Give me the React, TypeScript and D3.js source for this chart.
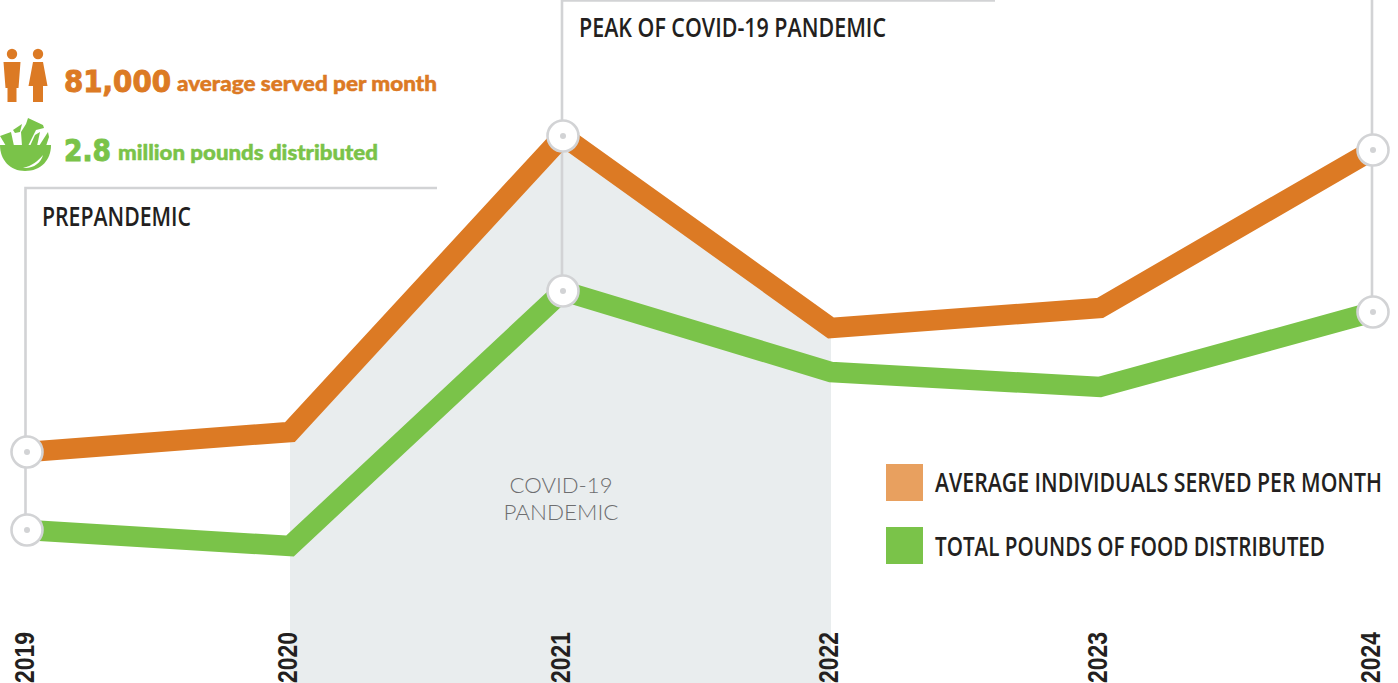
import React from 'react';
import * as d3 from 'd3';

const years = [2019, 2020, 2021, 2022, 2023, 2024];
// heights (the source chart has no value axis)
const individuals = [231, 251, 547, 355, 375, 533];
const pounds = [153, 137, 392, 311, 296, 371];
const pandemicYears = [2020, 2021, 2022];
const legendLabels = ['AVERAGE INDIVIDUALS SERVED PER MONTH', 'TOTAL POUNDS OF FOOD DISTRIBUTED'];

const width = 1398;
const height = 683;
const ORANGE = '#dc7a24';
const GREEN = '#7ac349';
const GREY = '#d2d3d5';
const INK = '#231f20';
const SQUEEZE = 0.78;

const x = d3.scaleLinear().domain(years).range([27, 290, 563, 831, 1100, 1373]);
const y = d3.scaleLinear().domain([0, height]).range([height, 0]);

const line = d3.line<number>().x((_, i) => x(years[i])).y((d) => y(d));
const band = d3.area<number>().x((d) => x(d)).y0(height).y1((d) => y(individuals[years.indexOf(d)]));

const Person = ({ dx, skirt }: { dx: number; skirt: boolean }) => (
  <g transform={`translate(${dx},0)`} fill={ORANGE}>
    <circle cx={0} cy={54} r={5.2} />
    <path
      d={
        skirt
          ? 'M-5,62 H5 L9.5,86 H5 V102 H-5 V86 H-9.5 Z'
          : 'M-8.5,62 H8.5 L6.5,88 H4.5 V102 H-4.5 V88 H-6.5 Z'
      }
    />
  </g>
);

const Bowl = () => (
  <g fill={GREEN}>
    <path d="M0,136 L11,132 L14,146 H6 Z" />
    <path d="M13,130 L22,124 L20,132 L15,133 Z" />
    <path d="M22,146 L21,132 L26,124 L28,118 L43,125 L44,128 L36,130 L28,146 Z" />
    <path d="M30,146 L35,135 L40,132 L37,146 Z" />
    <path d="M39,146 L48,132 L49,137 L46,146 Z" />
    <path d="M0,145 H51 C51,160 41,171 25,171 C10,171 0,160 0,145 Z" />
    <path d="M23,168 C32,166 38,161 43,155 C41,163 33,169 23,168 Z" fill="#fff" />
  </g>
);

const Marker = ({ year, value }: { year: number; value: number }) => (
  <g transform={`translate(${x(year)},${y(value)})`}>
    <circle r={15.5} fill="#fff" stroke={GREY} strokeWidth={2.6} />
    <circle r={3} fill={GREY} />
  </g>
);

// condensed caps: no narrow font is installed, so squeeze Open Sans
const Caps = ({ left, base, span, label }: { left: number; base: number; span: number; label: string }) => (
  <text
    transform={`translate(${left},${base}) scale(${SQUEEZE},1)`}
    fontFamily='"Open Sans", "Noto Sans", sans-serif'
    fontWeight={600}
    fontSize={26.5}
    fill={INK}
    textLength={span / SQUEEZE}
    lengthAdjust="spacingAndGlyphs"
  >
    {label}
  </text>
);

export default function App() {
  const first = 0;
  const peak = years.indexOf(2021);
  const last = years.length - 1;

  return (
    <svg
      width={width}
      height={height}
      viewBox={`0 0 ${width} ${height}`}
      style={{ position: 'absolute', left: 0, top: 0, background: '#fff' }}
    >
      <path d={band(pandemicYears) ?? ''} fill="#e9edee" />

      <g stroke={GREY} strokeWidth={2.6} fill="none">
        <path d={`M${x(years[first]) - 1.5},${y(pounds[first])} V188 H437`} />
        <path d={`M${x(years[peak]) - 1},${y(pounds[peak])} V0.5 H995`} />
        <path d={`M${x(years[last]) - 1},${y(pounds[last])} V0`} />
      </g>

      <path d={line(individuals) ?? ''} fill="none" stroke={ORANGE} strokeWidth={20.5} strokeLinejoin="miter" />
      <path d={line(pounds) ?? ''} fill="none" stroke={GREEN} strokeWidth={20.5} strokeLinejoin="miter" />

      {years.map((yr, i) =>
        i === first || i === peak || i === last ? (
          <g key={yr}>
            <Marker year={yr} value={individuals[i]} />
            <Marker year={yr} value={pounds[i]} />
          </g>
        ) : null
      )}

      {years.map((yr) => (
        <text
          key={yr}
          transform={`translate(${x(yr) + 7},683) rotate(-90)`}
          fontFamily='"Liberation Sans", sans-serif'
          fontSize={27}
          fontWeight={700}
          fill={INK}
          textLength={51}
          lengthAdjust="spacingAndGlyphs"
        >
          {yr}
        </text>
      ))}

      <Person dx={12} skirt={false} />
      <Person dx={38} skirt={true} />
      <Bowl />

      <g fontFamily='"DejaVu Sans", sans-serif' fontWeight={700}>
        <text x={64} y={92} fontSize={30} fill={ORANGE} stroke={ORANGE} strokeWidth={1} textLength={107} lengthAdjust="spacingAndGlyphs">81,000</text>
        <text x={64} y={161} fontSize={30} fill={GREEN} stroke={GREEN} strokeWidth={1} textLength={47} lengthAdjust="spacingAndGlyphs">2.8</text>
      </g>
      <g fontFamily="Lato, sans-serif" fontWeight={900}>
        <text x={177} y={91} fontSize={21.5} fill={ORANGE} stroke={ORANGE} strokeWidth={0.5} textLength={260} lengthAdjust="spacingAndGlyphs">average served per month</text>
        <text x={118} y={160} fontSize={21.5} fill={GREEN} stroke={GREEN} strokeWidth={0.5} textLength={260} lengthAdjust="spacingAndGlyphs">million pounds distributed</text>
      </g>

      <Caps left={42} base={226} span={149} label="PREPANDEMIC" />
      <Caps left={579} base={37} span={307} label="PEAK OF COVID-19 PANDEMIC" />
      <Caps left={935} base={492} span={447} label={legendLabels[0]} />
      <Caps left={935} base={556} span={390} label={legendLabels[1]} />

      <rect x={886} y={464} width={37} height={37} fill="#e8a05f" />
      <rect x={886} y={527} width={37} height={37} fill={GREEN} />

      <g fontFamily="Lato, sans-serif" fontWeight={300} fontSize={22} fill="#6d6e70" textAnchor="middle">
        <text x={561} y={493} textLength={103} lengthAdjust="spacingAndGlyphs">COVID-19</text>
        <text x={561} y={520} textLength={115} lengthAdjust="spacingAndGlyphs">PANDEMIC</text>
      </g>
    </svg>
  );
}
